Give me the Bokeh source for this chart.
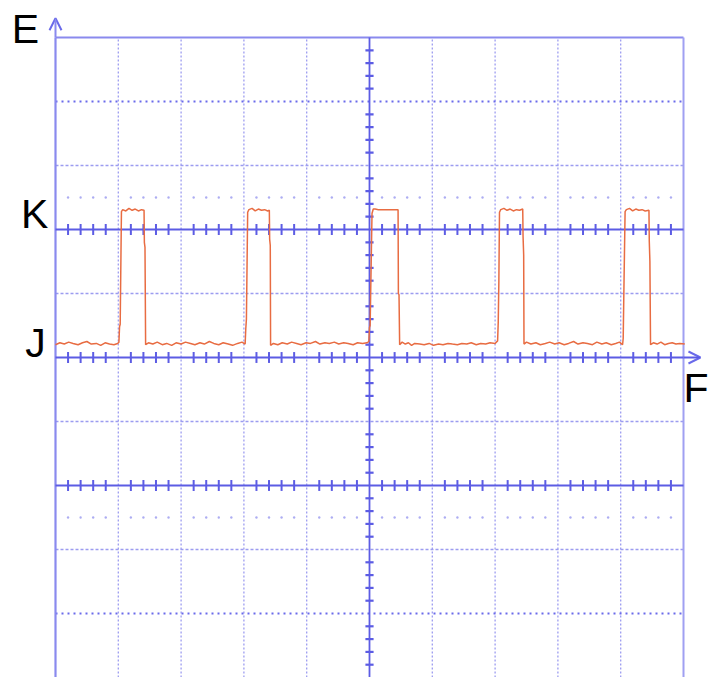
from bokeh.plotting import figure
from bokeh.models import Range1d, Arrow, OpenHead, Label
from bokeh.embed import file_html
from bokeh.resources import INLINE

# ---- data: oscilloscope trace (x in divisions, y in divisions; 0 = J level) ----
trace_x = [
    -5.00, -4.93, -4.86, -4.79, -4.72, -4.64, -4.57, -4.50, -4.43, -4.35, -4.28, -4.21, -4.14, -4.07, -4.01,
    -3.99, -3.98, -3.97, -3.95,
    -3.93, -3.88, -3.83, -3.78, -3.73, -3.68, -3.63, -3.59,
    -3.585, -3.575, -3.565,
    -3.52, -3.45, -3.38, -3.30, -3.23, -3.15, -3.08, -3.00, -2.93, -2.85, -2.78, -2.70, -2.63, -2.55,
    -2.48, -2.40, -2.33, -2.25, -2.18, -2.10, -2.03, -1.98,
    -1.97, -1.96, -1.94,
    -1.92, -1.87, -1.82, -1.77, -1.72, -1.67, -1.62, -1.595,
    -1.59, -1.58, -1.575,
    -1.53, -1.46, -1.39, -1.31, -1.24, -1.16, -1.09, -1.01, -0.94, -0.86, -0.79, -0.71, -0.64, -0.56,
    -0.49, -0.41, -0.34, -0.26, -0.19, -0.11, -0.04, -0.01,
    0.00, 0.01, 0.04,
    0.06, 0.09, 0.14, 0.20, 0.26, 0.32, 0.38, 0.455,
    0.46, 0.47, 0.48,
    0.52, 0.57, 0.62, 0.67, 0.72, 0.80, 0.87, 0.95, 1.02, 1.10, 1.17, 1.25, 1.32, 1.40, 1.47, 1.55,
    1.62, 1.70, 1.77, 1.85, 1.92, 2.00, 2.04,
    2.05, 2.06, 2.07,
    2.09, 2.14, 2.19, 2.24, 2.29, 2.34, 2.39, 2.44,
    2.445, 2.455, 2.46,
    2.50, 2.57, 2.65, 2.72, 2.80, 2.87, 2.95, 3.02, 3.10, 3.17, 3.25, 3.32, 3.40, 3.47, 3.55, 3.62,
    3.70, 3.77, 3.85, 3.92, 3.98, 4.03,
    4.04, 4.05, 4.07,
    4.09, 4.14, 4.19, 4.24, 4.29, 4.34, 4.39, 4.45,
    4.455, 4.465, 4.475,
    4.52, 4.58, 4.64, 4.70, 4.76, 4.82, 4.88, 4.94, 5.02,
]
trace_y = [
    0.20, 0.23, 0.21, 0.24, 0.22, 0.20, 0.23, 0.25, 0.21, 0.22, 0.19, 0.23, 0.21, 0.20, 0.22,
    0.24, 0.48, 0.52, 2.28,
    2.31, 2.29, 2.33, 2.30, 2.32, 2.29, 2.31, 2.30,
    1.80, 1.72, 0.20,
    0.23, 0.21, 0.24, 0.20, 0.22, 0.19, 0.23, 0.21, 0.24, 0.22, 0.20, 0.23, 0.21, 0.25,
    0.22, 0.20, 0.23, 0.21, 0.19, 0.22, 0.24, 0.21,
    0.45, 0.60, 2.27,
    2.31, 2.33, 2.29, 2.32, 2.30, 2.31, 2.29, 2.30,
    1.85, 1.75, 0.19,
    0.22, 0.20, 0.23, 0.21, 0.24, 0.22, 0.20, 0.23, 0.22, 0.25, 0.21, 0.23, 0.22, 0.24,
    0.21, 0.23, 0.22, 0.20, 0.23, 0.22, 0.23, 0.25,
    0.47, 0.50, 2.25,
    2.32, 2.32, 2.31, 2.31, 2.31, 2.31, 2.31, 2.31,
    1.00, 0.98, 0.20,
    0.24, 0.21, 0.23, 0.19, 0.22, 0.21, 0.20, 0.22, 0.19, 0.21, 0.20, 0.22, 0.21, 0.20, 0.22, 0.21,
    0.23, 0.20, 0.22, 0.21, 0.23, 0.22, 0.26,
    0.55, 1.20, 2.27,
    2.31, 2.33, 2.30, 2.32, 2.29, 2.31, 2.30, 2.32,
    1.90, 1.60, 0.21,
    0.24, 0.21, 0.23, 0.20, 0.22, 0.24, 0.21, 0.23, 0.20, 0.22, 0.25, 0.21, 0.23, 0.22, 0.20, 0.24,
    0.21, 0.23, 0.20, 0.22, 0.24, 0.20,
    0.30, 1.00, 2.28,
    2.31, 2.33, 2.29, 2.32, 2.30, 2.31, 2.29, 2.30,
    1.82, 1.50, 0.20,
    0.23, 0.21, 0.24, 0.20, 0.22, 0.23, 0.21, 0.22, 0.21,
]
level_labels = ["E", "K", "J", "F"]

# ---- grid structure ----
X_MIN, X_MAX = -5, 5
Y_MIN, Y_MAX = -5, 5
major_x = list(range(-4, 5))            # interior vertical grid lines
dotted_y = [4, -4]                       # dense dotted horizontals
dashed_y = [3, 1, -1, -3]                # light fine dashed horizontals
ticked_y = [2, 0, -2]                    # solid horizontals with ticks
faint_y = [2.5, -2.5]                    # sparse dot rows

PX_X = 62.8
PX_Y = 64.0
p = figure(width=713, height=677, output_backend="svg", toolbar_location=None,
           x_range=Range1d(-5 - 55 / PX_X, 5 + 30 / PX_X),
           y_range=Range1d(-5, 5 + 37 / PX_Y),
           min_border=0, background_fill_color="white", border_fill_color="white")
p.axis.visible = False
p.grid.visible = False
p.outline_line_color = None

BLUE = "#5c5ce4"
LIGHT = "#9c9cf0"

# vertical light dashed grid lines
vx = [x for x in major_x if x != 0]
p.multi_line(xs=[[x, x] for x in vx], ys=[[Y_MIN, Y_MAX]] * len(vx),
             line_color=LIGHT, line_width=1.3, line_dash="2 2")
# horizontal light dashed
p.multi_line(xs=[[X_MIN, X_MAX]] * len(dashed_y), ys=[[y, y] for y in dashed_y],
             line_color=LIGHT, line_width=1.3, line_dash="3 2")
# dense dotted
p.multi_line(xs=[[X_MIN, X_MAX]] * len(dotted_y), ys=[[y, y] for y in dotted_y],
             line_color="#6a6aea", line_width=2, line_dash="2 4")

# minor positions (0.2 div)
minor_x = [round(X_MIN + i * 0.2, 2) for i in range(51) if i % 5 != 0]
minor_y = [round(Y_MIN + i * 0.2, 2) for i in range(51) if i % 5 != 0]

# faint dot rows
fx, fy = [], []
for y in faint_y:
    for x in minor_x:
        fx.append(x)
        fy.append(y)
p.scatter(fx, fy, size=2.4, color="#adadf2", line_color=None)

# frame lines
p.line([X_MIN, X_MIN], [Y_MIN, Y_MAX], line_color="#8a8aee", line_width=2.2)
p.line([X_MIN, X_MAX], [Y_MAX, Y_MAX], line_color="#8a8aee", line_width=2)
p.line([X_MAX, X_MAX], [Y_MIN, Y_MAX], line_color="#a0a0f2", line_width=2)

# ticked solid horizontals
for y in ticked_y:
    p.line([X_MIN, X_MAX], [y, y], line_color=BLUE, line_width=1.8)
    p.multi_line(xs=[[x, x] for x in minor_x], ys=[[y - 0.085, y + 0.085]] * len(minor_x),
                 line_color=BLUE, line_width=2)
# center vertical with ticks
p.line([0, 0], [Y_MIN, Y_MAX], line_color=BLUE, line_width=1.8)
p.multi_line(xs=[[-0.065, 0.065]] * len(minor_y), ys=[[y, y] for y in minor_y],
             line_color=BLUE, line_width=2.2)

# axis arrows
p.add_layout(Arrow(end=OpenHead(size=12, line_color="#6a6aea", line_width=2),
                   x_start=X_MIN, y_start=Y_MAX, x_end=X_MIN, y_end=5.30,
                   line_color="#8a8aee", line_width=2))
p.add_layout(Arrow(end=OpenHead(size=12, line_color="#6a6aea", line_width=2),
                   x_start=X_MAX, y_start=0, x_end=5.27, y_end=0,
                   line_color=BLUE, line_width=1.8))

# signal
p.line(trace_x, trace_y, line_color="#e86c42", line_width=1.5)

# labels
label_pos = [(-5.48, 5.13), (-5.33, 2.25), (-5.32, 0.23), (5.20, -0.47)]
for t, (lx, ly) in zip(level_labels, label_pos):
    p.add_layout(Label(x=lx, y=ly, text=t, text_font="Liberation Sans", text_font_size="41px",
                       text_color="black", text_align="center", text_baseline="middle"))

open("out.html", "w").write(file_html(p, INLINE))
